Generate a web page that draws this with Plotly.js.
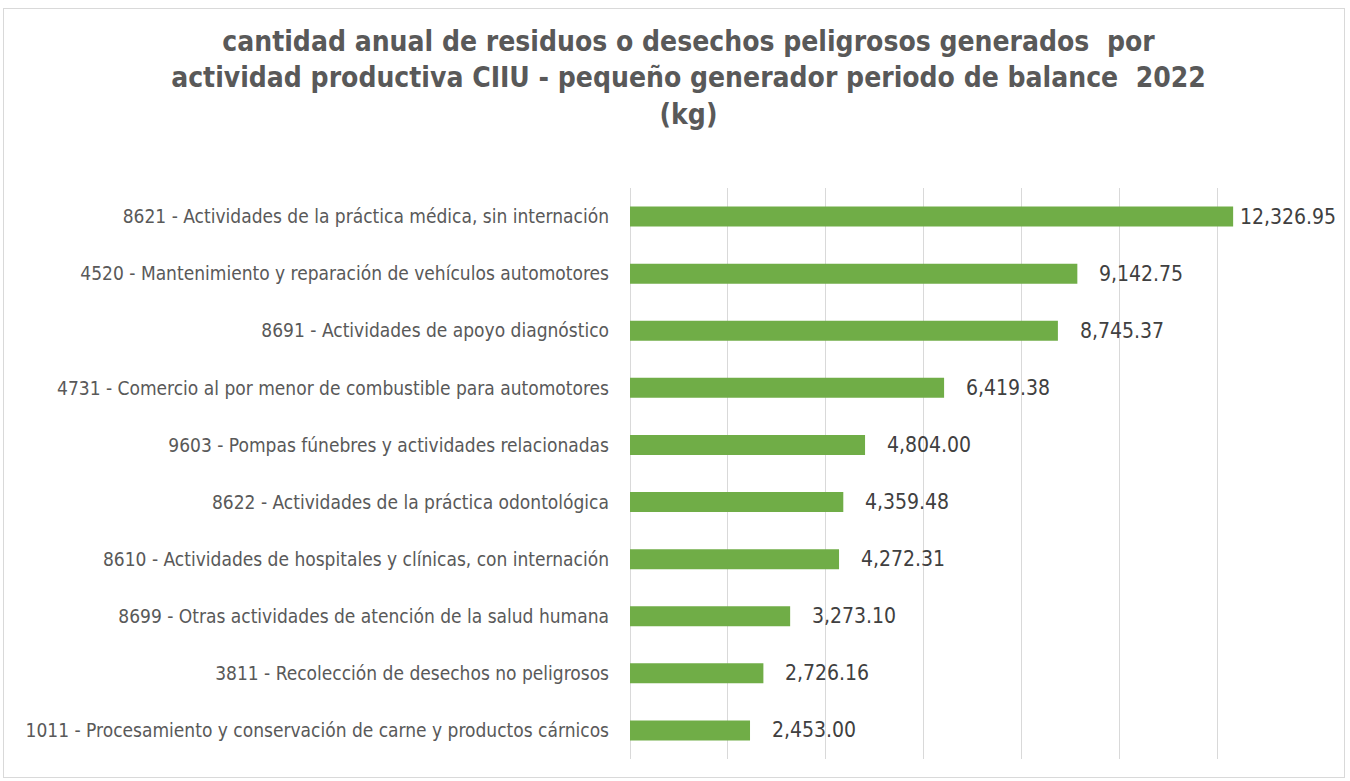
<!DOCTYPE html>
<html>
<head>
<meta charset="utf-8">
<script src="https://cdn.plot.ly/plotly-3.0.1.min.js"></script>
<style>
  body { margin: 0; padding: 0; background: #ffffff; }
  #chart { width: 1350px; height: 781px; }
  #frame { position: absolute; left: 3px; top: 8px; width: 1340px; height: 768px; border: 1px solid #d9d9d9; pointer-events: none; }
</style>
</head>
<body>
<div id="chart"></div>
<div id="frame"></div>
<script>
const categories = [
  "8621 - Actividades de la práctica médica, sin internación",
  "4520 - Mantenimiento y reparación de vehículos automotores",
  "8691 - Actividades de apoyo diagnóstico",
  "4731 - Comercio al por menor de combustible para automotores",
  "9603 - Pompas fúnebres y actividades relacionadas",
  "8622 - Actividades de la práctica odontológica",
  "8610 - Actividades de hospitales y clínicas, con internación",
  "8699 - Otras actividades de atención de la salud humana",
  "3811 - Recolección de desechos no peligrosos",
  "1011 - Procesamiento y conservación de carne y productos cárnicos"
];
const values = [12326.95, 9142.75, 8745.37, 6419.38, 4804.00, 4359.48, 4272.31, 3273.10, 2726.16, 2453.00];
const titleLines = [
  "cantidad anual de residuos o desechos peligrosos generados  por",
  "actividad productiva CIIU - pequeño generador periodo de balance  2022",
  "(kg)"
];

const FONT = "'Liberation Sans Narrow', 'Arial Narrow', 'DejaVu Sans Condensed', sans-serif";
const xMax = 14000;

const fmt = v => v.toLocaleString('en-US', {minimumFractionDigits: 2, maximumFractionDigits: 2});

const annotations = values.map((v, i) => ({
  x: v, y: categories[i], xref: 'x', yref: 'y',
  text: fmt(v), showarrow: false, xanchor: 'left', yanchor: 'middle',
  xshift: v > xMax * 0.8 ? 5 : 20,
  font: {family: FONT, size: 21, color: '#404040'}
}));

const trace = {
  type: 'bar', orientation: 'h',
  x: values, y: categories,
  marker: {color: '#70ad47', line: {width: 0}},
  hoverinfo: 'x+y'
};

const layout = {
  width: 1350, height: 781,
  paper_bgcolor: '#ffffff', plot_bgcolor: '#ffffff',
  margin: {l: 630, r: 35, t: 188, b: 22},
  bargap: 0.65,
  showlegend: false,
  title: {
    text: titleLines.join('<br>'),
    x: 0.51, xanchor: 'center',
    y: 1 - 51 / 781, yanchor: 'top', yref: 'container',
    font: {family: FONT, size: 28, color: '#595959', weight: 'bold'}
  },
  xaxis: {
    range: [0, xMax], dtick: 2000, tick0: 0,
    showgrid: true, gridcolor: '#d9d9d9', gridwidth: 1,
    zeroline: true, zerolinecolor: '#d9d9d9', zerolinewidth: 1,
    showticklabels: false, ticks: '', showline: false, fixedrange: true
  },
  yaxis: {
    type: 'category', autorange: 'reversed',
    showgrid: false, zeroline: false, showline: false, ticks: '',
    ticklabelstandoff: 20,
    tickfont: {family: FONT, size: 19, color: '#595959'},
    fixedrange: true
  },
  annotations: annotations
};

Plotly.newPlot('chart', [trace], layout, {displayModeBar: false, staticPlot: true});
</script>
</body>
</html>
